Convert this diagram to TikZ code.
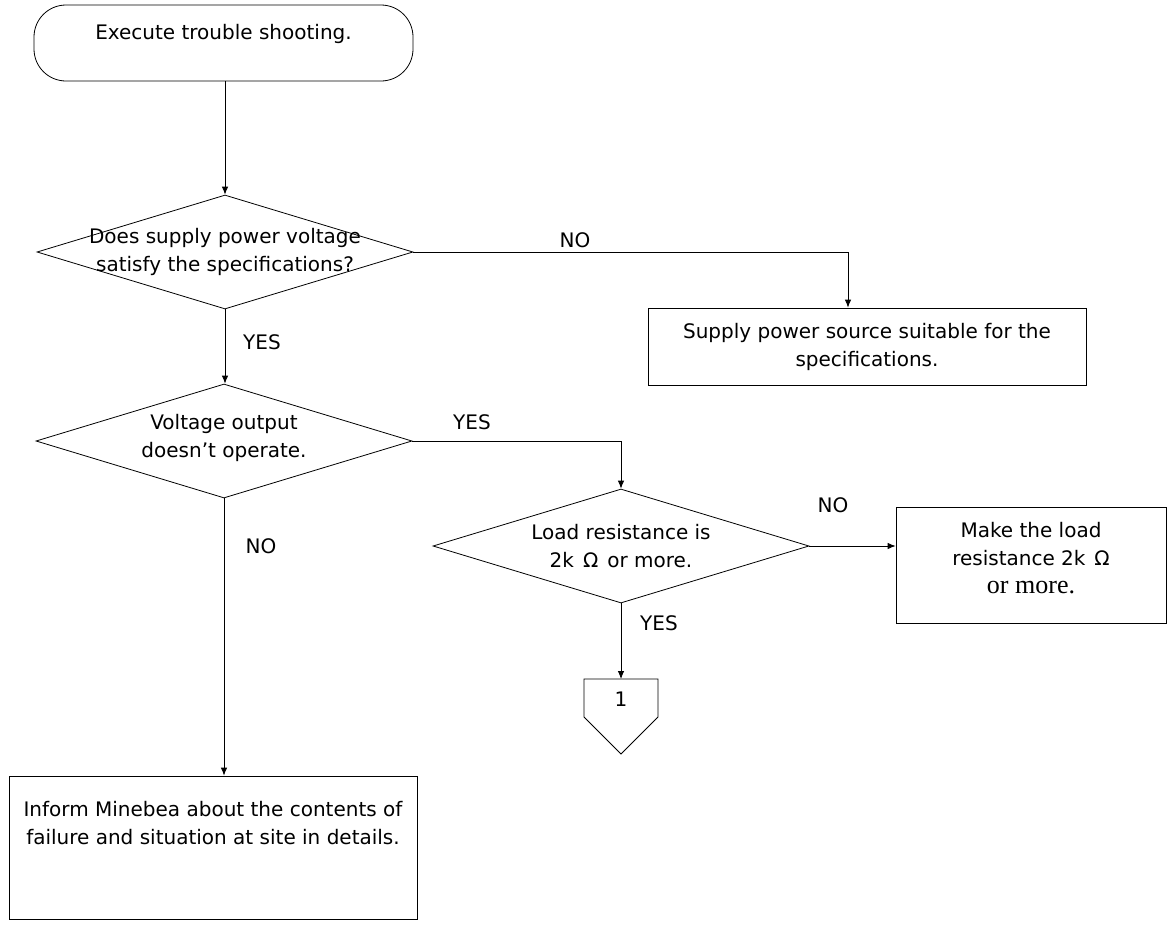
\documentclass[tikz,border=0pt]{standalone}
\usepackage{fontspec}
\setsansfont{DejaVu Sans}
\newfontfamily\serifpart{Liberation Serif}
\usetikzlibrary{arrows.meta,shapes.geometric,positioning}

\tikzset{
  txt/.style={font=\sffamily\fontsize{20}{28}\selectfont, align=center, inner sep=0pt},
  answer/.style={font=\sffamily\fontsize{20}{24}\selectfont, inner sep=0pt},
  terminal/.style={draw, rectangle, rounded corners=32pt, minimum width=379pt, minimum height=76pt},
  decision/.style={draw, diamond, minimum width=376pt, minimum height=114pt, inner sep=0pt},
  process/.style={draw, rectangle, inner sep=0pt},
  flow/.style={-{Latex[length=8pt,width=6.5pt]}}
}

\begin{document}
\begin{tikzpicture}[x=1pt, y=-1pt, line width=0.8pt]
                    \useasboundingbox (0,0) rectangle (1173,929);
                    % shapes
                    \node[terminal] (start) at (223.5,43) {};
                    \node[txt, below=19pt of start.north] (starttext) {Execute trouble shooting.};
                    \node[decision] (d1) at (225,252) {};
                    \node[txt] (d1text) at (d1) {Does supply power voltage\\satisfy the specifications?};
                    \node[process, minimum width=438pt, minimum height=77pt] (box2) at (867,346.5) {};
                    \node[txt] (box2text) at (box2) {Supply power source suitable for the\\specifications.};
                    \node[decision] (d2) at (224,441) {};
                    \node[txt, yshift=3pt] (d2text) at (d2) {Voltage output\\doesn’t operate.};
                    \node[decision] (d3) at (621,546) {};
                    \node[txt] (d3text) at (d3) {Load resistance is\\2k\hspace{9pt}Ω\hspace{9pt}or more.};
                    \node[process, minimum width=270pt, minimum height=116pt] (box3) at (1031,565) {};
                    \node[txt, yshift=7pt] (box3text) at (box3) {Make the load\\resistance 2k\hspace{9pt}Ω\\{\serifpart\fontsize{26}{28}\selectfont or more.}};
                    \node[process, minimum width=408pt, minimum height=143pt] (box4) at (213,847.5) {};
                    \node[txt, yshift=24pt] (box4text) at (box4) {Inform Minebea about the contents of\\failure and situation at site in details.};
                    % off-page connector
                    \node[txt] (c1) at (621,699) {1};
                    \coordinate (c1top) at (621,679);
                    \draw (584,679) -- (658,679) -- (658,717) -- (621,754) -- (584,717) -- cycle;
                    % connectors
                    \draw[flow] (d1.north |- start.south) -- (d1.north);
                    \draw[flow] (d1.east) -| ([xshift=-19pt]box2.north);
                    \draw[flow] (d1.south) -- (d1.south |- d2.north);
                    \draw[flow] (d2.east) -| (d3.north);
                    \draw[flow] (d3.east) -- (d3.east -| box3.west);
                    \draw[flow] (d3.south) -- (c1top);
                    \draw[flow] (d2.south) -- (d2.south |- box4.north);
                    % answers
                    \node[answer] (no1) at (575,240) {NO};
                    \node[answer] (yes1) at (262,342) {YES};
                    \node[answer] (yes2) at (472,422) {YES};
                    \node[answer] (no2) at (833,505) {NO};
                    \node[answer] (yes3) at (659,623) {YES};
                    \node[answer] (no3) at (261,546) {NO};
                \end{tikzpicture}
\end{document}
